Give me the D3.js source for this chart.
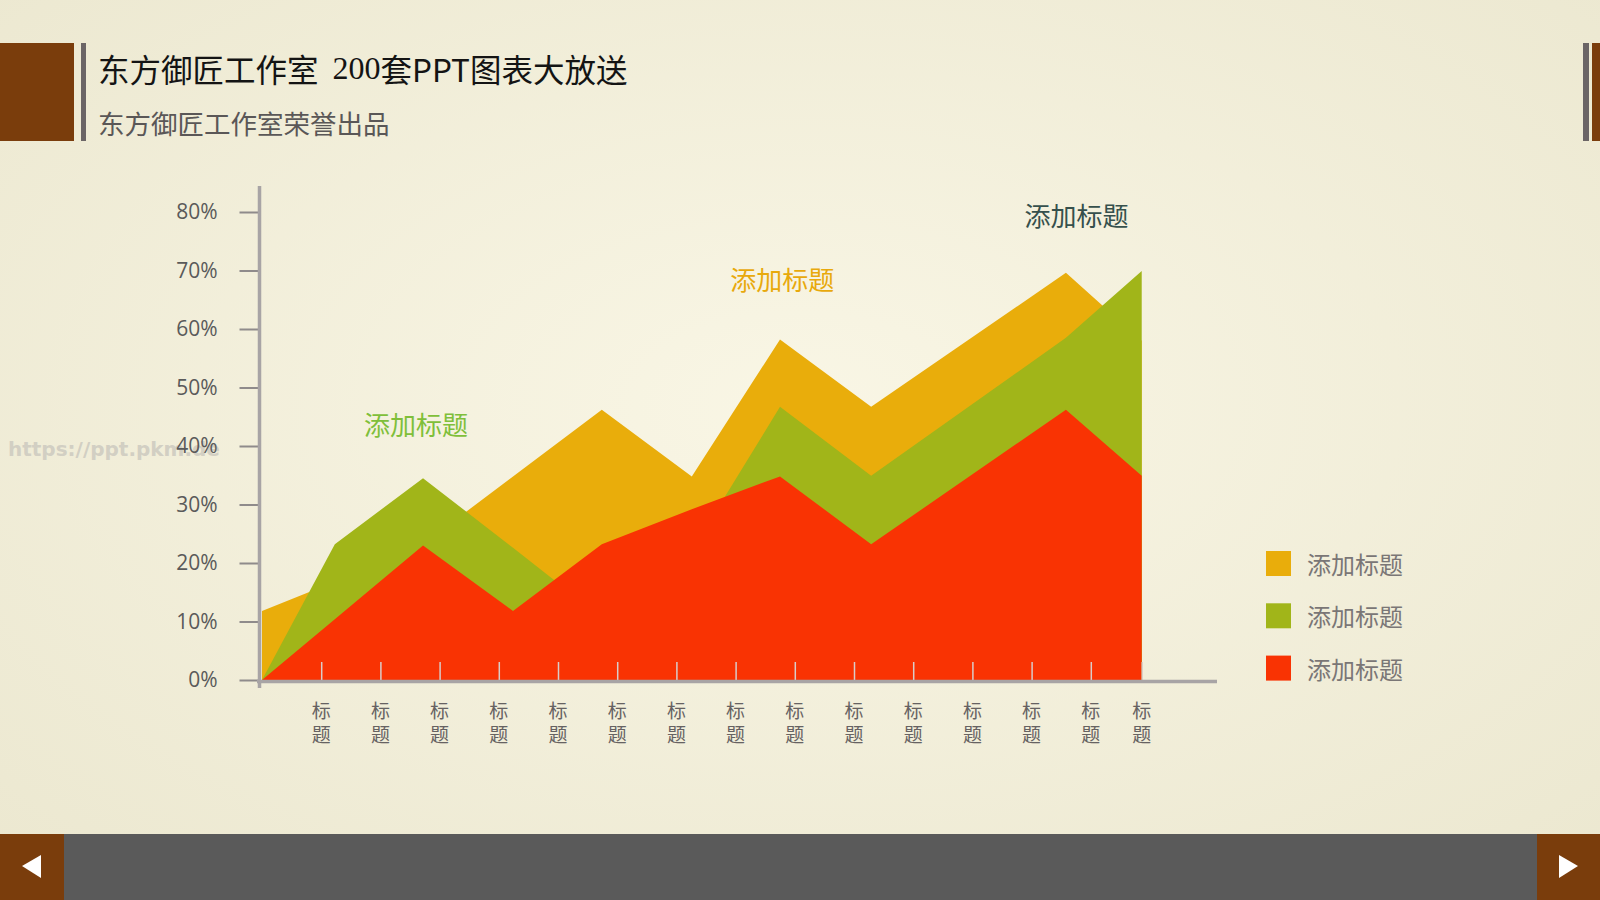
<!DOCTYPE html>
<html>
<head>
<meta charset="utf-8">
<script src="https://cdn.jsdelivr.net/npm/d3@7"></script>
<style>
	body { margin: 0; background: #f4f1dc; }
	svg { display: block; }
</style>
</head>
<body>
<div class="slide"></div>
<script>
	// chart data (x positions in category units, values in %)
	var positions = [0, 1.23, 2.72, 4.24, 5.74, 7.26, 8.75, 10.29, 13.58, 14.86];
	var yellowVals = [11.8, 16.8, 23.2, 34.8, 46.2, 34.8, 58.2, 46.7, 69.6, 58.0];
	var greenVals = [0, 23.2, 34.5, 22.6, 10.7, 22.1, 46.7, 34.9, 58.5, 69.9];
	var redVals = [0, 10.4, 23.0, 11.8, 23.2, 29.2, 34.8, 23.2, 46.2, 34.9];
	var seriesNames = ["添加标题", "添加标题", "添加标题"];
	var seriesColors = ["#e9ad0b", "#a1b519", "#f93303"];

	// axes
	var yTicks = [0, 10, 20, 30, 40, 50, 60, 70, 80];
	var xTickPos = [1, 2, 3, 4, 5, 6, 7, 8, 9, 10, 11, 12, 13, 14, 14.86];
	var xLabels = ["标题", "标题", "标题", "标题", "标题", "标题", "标题", "标题",
		"标题", "标题", "标题", "标题", "标题", "标题", "标题"];

	// floating notes: [category pos, value %]
	var noteText = ["添加标题", "添加标题", "添加标题"];
	var notePos = [[2.6, 43.8], [8.79, 68.6], [13.76, 79.6]];
	var noteColors = ["#7fbf3a", "#e8a90c", "#36504c"];

	var width = 1600, height = 900;
	var cjk = "'Noto Sans CJK SC', 'Noto Sans', sans-serif";

	var svg = d3.select(".slide")
		.append("svg")
			.attr("width", width)
			.attr("height", height);

	// background
	var defs = svg.append("defs");
	var bg = defs.append("radialGradient")
		.attr("id", "bg")
		.attr("cx", "50%").attr("cy", "45%").attr("r", "75%");
	bg.append("stop").attr("offset", "0%").attr("stop-color", "#f9f6e5");
	bg.append("stop").attr("offset", "100%").attr("stop-color", "#ebe7cf");
	svg.append("rect")
		.attr("width", width)
		.attr("height", height)
		.attr("fill", "url(#bg)");

	// header decoration
	svg.append("rect").attr("x", 0).attr("y", 43).attr("width", 74).attr("height", 98).attr("fill", "#7a3d0c");
	svg.append("rect").attr("x", 81).attr("y", 43).attr("width", 5).attr("height", 98).attr("fill", "#6b6566");
	svg.append("rect").attr("x", 1583).attr("y", 43).attr("width", 6).attr("height", 98).attr("fill", "#6b6566");
	svg.append("rect").attr("x", 1592).attr("y", 43).attr("width", 8).attr("height", 98).attr("fill", "#7a3d0c");

	var title = svg.append("text")
		.attr("x", 98)
		.attr("y", 68)
		.attr("dominant-baseline", "central")
		.attr("font-family", cjk)
		.attr("font-size", "31.5px")
		.attr("fill", "#141414");
	title.append("tspan").text("东方御匠工作室");
	title.append("tspan").attr("dx", 14).attr("font-family", "'Liberation Serif', serif").attr("font-size", "32px").text("200");
	title.append("tspan").text("套PPT图表大放送");

	svg.append("text")
		.attr("x", 98)
		.attr("y", 122)
		.attr("dominant-baseline", "central")
		.attr("font-family", cjk)
		.attr("font-size", "26.5px")
		.attr("fill", "#5a5757")
		.text("东方御匠工作室荣誉出品");

	// footer
	svg.append("rect").attr("x", 0).attr("y", 834).attr("width", width).attr("height", 66).attr("fill", "#5a5a5a");
	svg.append("rect").attr("x", 0).attr("y", 834).attr("width", 64).attr("height", 66).attr("fill", "#7a3d0c");
	svg.append("rect").attr("x", 1537).attr("y", 834).attr("width", 63).attr("height", 66).attr("fill", "#7a3d0c");
	svg.append("polygon").attr("points", "22,866 41,855 41,878").attr("fill", "#ffffff");
	svg.append("polygon").attr("points", "1578,866 1559,855 1559,878").attr("fill", "#ffffff");

	// watermark
	svg.append("text")
		.attr("x", 8)
		.attr("y", 449)
		.attr("dominant-baseline", "central")
		.attr("font-family", "'DejaVu Sans', sans-serif")
		.attr("font-weight", "bold")
		.attr("font-size", "20px")
		.attr("fill", "#d2cfc3")
		.text("https://ppt.pkm.de");

	// scales
	var xScale = d3.scaleLinear()
		.domain([0, 15])
		.range([262, 1150]);
	var yScale = d3.scaleLinear()
		.domain([0, 80])
		.range([680, 212]);

	// areas, back to front
	var seriesVals = [yellowVals, greenVals, redVals];
	seriesVals.forEach(function(vals, i) {
		var area = d3.area()
			.x(function(d, j) { return xScale(positions[j]); })
			.y0(yScale(0))
			.y1(function(d) { return yScale(d); });
		svg.append("path")
			.datum(vals)
			.attr("class", "area")
			.attr("fill", seriesColors[i])
			.attr("d", area);
	});

	// y axis
	var yAxisCall = d3.axisLeft(yScale)
		.tickValues(yTicks)
		.tickSize(20)
		.tickPadding(22)
		.tickFormat(function(d) { return d + "%"; });
	var yAxis = svg.append("g")
		.attr("class", "y axis")
		.attr("transform", "translate(259.5,0)")
		.call(yAxisCall);
	yAxis.select(".domain").remove();
	yAxis.selectAll(".tick line").attr("stroke", "#8f8b8b").attr("stroke-width", 2);
	yAxis.selectAll(".tick text")
		.attr("fill", "#5a5a5a")
		.attr("font-family", "'Open Sans', 'Noto Sans', sans-serif")
		.attr("font-size", "21px");
	svg.append("line")
		.attr("x1", 259.5).attr("x2", 259.5)
		.attr("y1", yScale(80) - 26).attr("y2", yScale(0) + 8)
		.attr("stroke", "#a8a4a5")
		.attr("stroke-width", 3.5);

	// x axis
	var xAxisCall = d3.axisBottom(xScale)
		.tickValues(xTickPos)
		.tickSize(-18)
		.tickFormat("");
	var xAxis = svg.append("g")
		.attr("class", "x axis")
		.attr("transform", "translate(0," + yScale(0) + ")")
		.call(xAxisCall);
	xAxis.select(".domain").remove();
	xAxis.selectAll(".tick line").attr("stroke", "#d9cdca").attr("stroke-width", 1.5);
	svg.append("line")
		.attr("x1", 257).attr("x2", 1217)
		.attr("y1", yScale(0) + 1.5).attr("y2", yScale(0) + 1.5)
		.attr("stroke", "#a8a4a5")
		.attr("stroke-width", 3.5);

	var xLab = svg.selectAll(".xlab")
		.data(xLabels)
		.enter()
		.append("text")
			.attr("class", "xlab")
			.attr("text-anchor", "middle")
			.attr("font-family", cjk)
			.attr("font-size", "19px")
			.attr("fill", "#666262");
	xLab.append("tspan")
		.attr("x", function(d, i) { return xScale(xTickPos[i]); })
		.attr("y", 718)
		.text(function(d) { return d.charAt(0); });
	xLab.append("tspan")
		.attr("x", function(d, i) { return xScale(xTickPos[i]); })
		.attr("y", 742)
		.text(function(d) { return d.charAt(1); });

	// notes
	svg.selectAll(".note")
		.data(noteText)
		.enter()
		.append("text")
			.attr("class", "note")
			.attr("x", function(d, i) { return xScale(notePos[i][0]); })
			.attr("y", function(d, i) { return yScale(notePos[i][1]); })
			.attr("text-anchor", "middle")
			.attr("dominant-baseline", "central")
			.attr("font-family", cjk)
			.attr("font-size", "26px")
			.attr("fill", function(d, i) { return noteColors[i]; })
			.text(function(d) { return d; });

	// legend
	var legend = svg.selectAll(".legend")
		.data(seriesNames)
		.enter()
		.append("g")
			.attr("class", "legend")
			.attr("transform", function(d, i) { return "translate(1266," + (551 + i * 52.3) + ")"; });
	legend.append("rect")
		.attr("width", 25)
		.attr("height", 25)
		.attr("fill", function(d, i) { return seriesColors[i]; });
	legend.append("text")
		.attr("x", 41)
		.attr("y", 12.5)
		.attr("dominant-baseline", "central")
		.attr("font-family", cjk)
		.attr("font-size", "24px")
		.attr("fill", "#7a7676")
		.text(function(d) { return d; });
</script>
</body>
</html>
